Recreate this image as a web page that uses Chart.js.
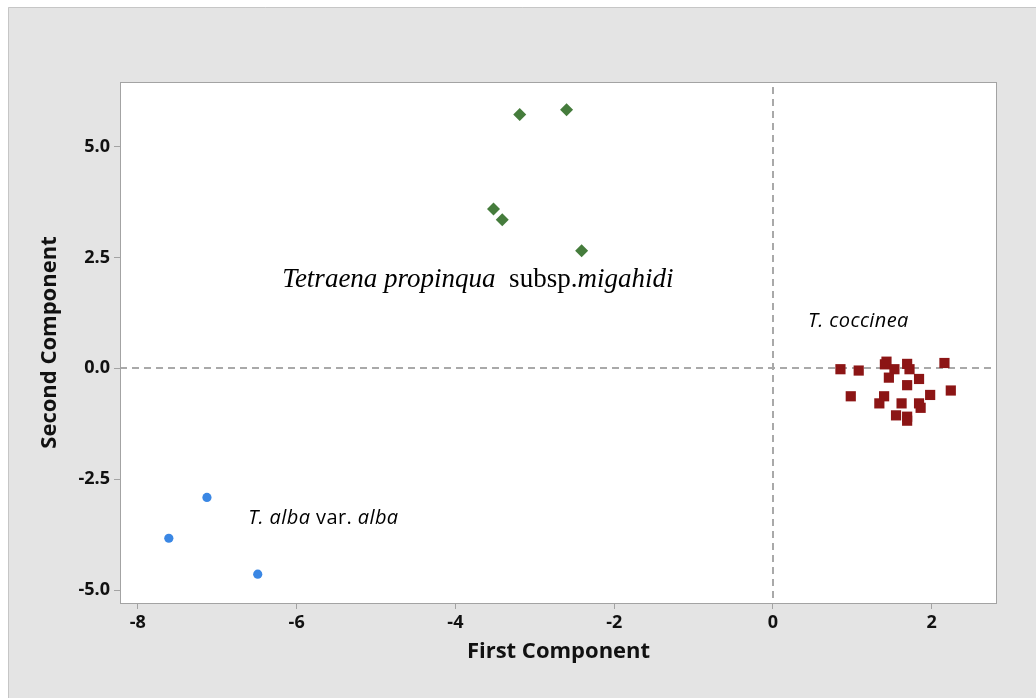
<!DOCTYPE html>
<html>
<head>
<meta charset="utf-8">
<script src="https://cdn.jsdelivr.net/npm/chart.js@4"></script>
<style>
  html, body { margin: 0; padding: 0; background: #fff; }
  canvas { display: block; }
</style>
</head>
<body>
<canvas id="c" width="1036" height="698"></canvas>
<script>
// ---- data ----
const migahidiX = [-3.19, -2.60, -3.52, -3.41, -2.41];
const migahidiY = [5.72, 5.83, 3.59, 3.35, 2.65];

const albaX = [-7.13, -7.61, -6.49];
const albaY = [-2.91, -3.83, -4.64];

const coccineaX = [0.85, 1.08, 1.43, 1.41, 1.53, 1.69, 1.72, 2.16, 1.46, 1.84, 1.69,
                   0.98, 1.40, 1.34, 1.62, 1.98, 2.24, 1.84, 1.86, 1.55, 1.69, 1.69];
const coccineaY = [-0.02, -0.05, 0.15, 0.09, -0.02, 0.10, -0.02, 0.12, -0.21, -0.24, -0.38,
                   -0.63, -0.63, -0.79, -0.79, -0.60, -0.50, -0.79, -0.89, -1.06, -1.09, -1.18];

const xTickValues = [-8, -6, -4, -2, 0, 2];
const yTickValues = [-5, -2.5, 0, 2.5, 5];
const yTickLabels = ['-5.0', '-2.5', '0.0', '2.5', '5.0'];

const xAxisTitle = 'First Component';
const yAxisTitle = 'Second Component';

// annotation labels: text pieces with italic flags, anchored in data units
const labels = [
  { x: -6.18, y: 1.84, family: '"Liberation Serif", "Times New Roman", serif', size: 27, spacing: 0,
    parts: [['Tetraena propinqua', true], ['  subsp.', false], ['migahidi', true]] },
  { x: 0.44, y: 0.94, family: '"Open Sans", sans-serif', size: 20, spacing: 0.4,
    parts: [['T. coccinea', true]] },
  { x: -6.61, y: -3.50, family: '"Open Sans", sans-serif', size: 20, spacing: 0.4,
    parts: [['T. alba', true], [' var. ', false], ['alba', true]] }
];

function pts(xs, ys) { return xs.map((x, i) => ({ x: x, y: ys[i] })); }

const frame = {
  id: 'frame',
  beforeDraw(chart) {
    const { ctx, width, height, chartArea: a } = chart;
    ctx.save();
    ctx.fillStyle = '#ffffff';
    ctx.fillRect(0, 0, width, height);
    ctx.fillStyle = '#e4e4e4';
    ctx.fillRect(8, 7, width, height);
    ctx.strokeStyle = '#c6c6c6';
    ctx.lineWidth = 1;
    ctx.beginPath();
    ctx.moveTo(8.5, height); ctx.lineTo(8.5, 7.5); ctx.lineTo(width, 7.5);
    ctx.stroke();
    ctx.fillStyle = '#ffffff';
    ctx.fillRect(a.left, a.top, a.right - a.left, a.bottom - a.top);
    ctx.restore();
  },
  beforeDatasetsDraw(chart) {
    const { ctx, chartArea: a, scales } = chart;
    const x0 = Math.round(scales.x.getPixelForValue(0));
    const y0 = Math.round(scales.y.getPixelForValue(0));
    ctx.save();
    ctx.strokeStyle = '#a9a9a9';
    ctx.lineWidth = 2;
    ctx.setLineDash([7, 5]);
    ctx.beginPath();
    ctx.moveTo(x0, a.top + 5); ctx.lineTo(x0, a.bottom);
    ctx.moveTo(a.left, y0); ctx.lineTo(a.right, y0);
    ctx.stroke();
    ctx.restore();
  },
  afterDatasetsDraw(chart) {
    const { ctx, chartArea: a, scales } = chart;
    ctx.save();
    ctx.strokeStyle = '#a3a3a3';
    ctx.lineWidth = 1;
    ctx.strokeRect(a.left + 0.5, a.top + 0.5, a.right - a.left - 1, a.bottom - a.top);
    ctx.fillStyle = '#000000';
    ctx.textBaseline = 'alphabetic';
    ctx.textAlign = 'left';
    labels.forEach(l => {
      let px = scales.x.getPixelForValue(l.x);
      const py = scales.y.getPixelForValue(l.y);
      ctx.letterSpacing = l.spacing + 'px';
      l.parts.forEach(([t, it]) => {
        ctx.font = (it ? 'italic ' : '') + l.size + 'px ' + l.family;
        ctx.fillText(t, px, py);
        px += ctx.measureText(t).width;
      });
    });
    ctx.letterSpacing = '0px';
    ctx.restore();
  }
};

const tickFont = { family: '"Open Sans", sans-serif', size: 18, weight: 'bold' };
const titleFont = { family: '"Open Sans", sans-serif', size: 22, weight: 'bold' };

new Chart(document.getElementById('c'), {
  type: 'scatter',
  data: {
    datasets: [
      { label: 'Tetraena propinqua subsp. migahidi', data: pts(migahidiX, migahidiY),
        pointStyle: 'rectRot', radius: 6.5, backgroundColor: '#457c3c', borderColor: '#457c3c', borderWidth: 0 },
      { label: 'T. coccinea', data: pts(coccineaX, coccineaY),
        pointStyle: 'rect', radius: 7.2, backgroundColor: '#8c1515', borderColor: '#8c1515', borderWidth: 0 },
      { label: 'T. alba var. alba', data: pts(albaX, albaY),
        pointStyle: 'circle', radius: 4.6, backgroundColor: '#3a87e4', borderColor: '#3a87e4', borderWidth: 0 }
    ]
  },
  options: {
    responsive: false,
    animation: false,
    layout: { padding: { top: 82, right: 39, left: 0, bottom: 0 } },
    plugins: { legend: { display: false }, tooltip: { enabled: false } },
    scales: {
      x: {
        type: 'linear', position: 'bottom',
        min: -8.225, max: 2.822,
        afterFit(s) { s.height = 95; },
        afterBuildTicks(s) { s.ticks = xTickValues.map(v => ({ value: v })); },
        ticks: { font: tickFont, color: '#111', padding: 3, maxRotation: 0,
                 callback: v => String(v) },
        grid: { display: true, drawOnChartArea: false, drawTicks: true, tickLength: 6, color: '#a3a3a3' },
        border: { display: false },
        title: { display: true, text: xAxisTitle, font: titleFont, color: '#111',
                 padding: { top: 0, bottom: 33 } }
      },
      y: {
        type: 'linear', position: 'left',
        min: -5.289, max: 6.453,
        afterFit(s) { s.width = 120; },
        afterBuildTicks(s) { s.ticks = yTickValues.map(v => ({ value: v })); },
        ticks: { font: tickFont, color: '#111', padding: 4,
                 callback: (v) => yTickLabels[yTickValues.indexOf(v)] },
        grid: { display: true, drawOnChartArea: false, drawTicks: true, tickLength: 6, color: '#a3a3a3' },
        border: { display: false },
        title: { display: true, text: yAxisTitle, font: titleFont, color: '#111',
                 padding: { top: 37, bottom: 0 } }
      }
    }
  },
  plugins: [frame]
});
</script>
</body>
</html>
